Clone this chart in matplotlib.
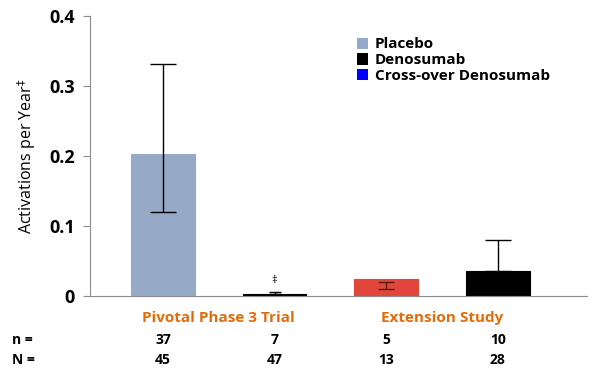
import matplotlib.pyplot as plt
from matplotlib.patches import Patch

plt.rcParams['font.family'] = ['Open Sans', 'DejaVu Sans']

# data
groups = ['Placebo', 'Denosumab', 'Cross-over Denosumab', 'Denosumab']
values = [0.203, 0.003, 0.024, 0.035]
err_low = [0.120, 0.003, 0.0096, 0.035]
err_high = [0.332, 0.005, 0.0196, 0.080]
colors = ['#96A9C6', '#000000', '#E2463A', '#000000']
n_vals = ['37', '7', '5', '10']
N_vals = ['45', '47', '13', '28']
study_labels = ['Pivotal Phase 3 Trial', 'Extension Study']

fig = plt.figure(figsize=(6, 3.79), dpi=100)
ax = fig.add_axes([0.15, 0.219, 0.828, 0.739])

x = list(range(len(values)))
ax.bar(x, values, width=0.57, color=colors, edgecolor=colors, linewidth=0.8, zorder=2)

mids = [(lo + hi) / 2 for lo, hi in zip(err_low, err_high)]
half = [(hi - lo) / 2 for lo, hi in zip(err_low, err_high)]
caps = [9.5, 4, 6, 9.5]
for i in range(len(values)):
    ecol = '#5a1a14' if i == 2 else 'black'
    ax.errorbar(x[i], mids[i], yerr=half[i], fmt='none', ecolor=ecol,
                elinewidth=1, capsize=caps[i], capthick=1, zorder=3)

ax.text(x[1], 0.022, '\u2021', ha='center', va='center', fontsize=8)

ax.set_xlim(-0.654, 3.796)
ax.set_ylim(0, 0.4)
ax.set_yticks([0, 0.1, 0.2, 0.3, 0.4])
ax.set_yticklabels(['0', '0.1', '0.2', '0.3', '0.4'], fontsize=13, fontweight='bold')
ax.set_xticks([])
for s in ['top', 'right']:
    ax.spines[s].set_visible(False)
for s in ['left', 'bottom']:
    ax.spines[s].set_color('#8c8c8c')
ax.tick_params(axis='y', color='#8c8c8c', length=5, pad=6)
ax.set_ylabel('Activations per Year$^{\\ddagger}$', fontsize=11.5, labelpad=8)

# legend
handles = [Patch(facecolor=c, edgecolor='none') for c in ['#96A9C6', '#000000', '#0000FF']]
ax.legend(handles, ['Placebo', 'Denosumab', 'Cross-over Denosumab'],
          loc='upper left', bbox_to_anchor=(0.525, 0.945), frameon=False,
          prop={'weight': 'bold', 'size': 11}, handlelength=0.75, handleheight=0.75,
          handletextpad=0.4, labelspacing=0.12, borderaxespad=0)

# study labels under the axis
trans = ax.get_xaxis_transform()
ax.text((x[0] + x[1]) / 2, -0.08, study_labels[0], transform=trans, ha='center', va='center',
        color='#E36C09', fontsize=11, fontweight='bold')
ax.text((x[2] + x[3]) / 2, -0.08, study_labels[1], transform=trans, ha='center', va='center',
        color='#E36C09', fontsize=11, fontweight='bold')

fig.text(0.02, 1 - 340 / 379, 'n =', ha='left', va='center', fontsize=10, fontweight='bold')
fig.text(0.02, 1 - 360 / 379, 'N =', ha='left', va='center', fontsize=10, fontweight='bold')
for i in range(len(values)):
    ax.text(x[i], -0.158, n_vals[i], transform=trans, ha='center', va='center',
            fontsize=10, fontweight='bold')
    ax.text(x[i], -0.23, N_vals[i], transform=trans, ha='center', va='center',
            fontsize=10, fontweight='bold')

fig.savefig('out.png', dpi=100)
